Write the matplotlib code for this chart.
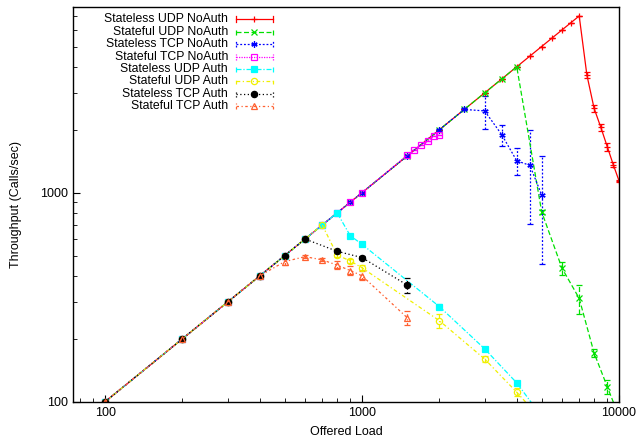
import matplotlib
matplotlib.use('Agg')
import matplotlib.pyplot as plt
from matplotlib.lines import Line2D

plt.rcParams['font.family'] = ['Liberation Sans', 'DejaVu Sans']
plt.rcParams['font.size'] = 9

DIAG = [100, 200, 300, 400, 500, 600, 700, 800, 900, 1000]

red_x = DIAG + [1500, 2000, 2500, 3000, 3500, 4000, 4500, 5000, 5500, 6000, 6500, 7000,
                7500, 8000, 8500, 9000, 9500, 10000]
red_y = DIAG + [1500, 2000, 2500, 3000, 3500, 4000, 4500, 5000, 5500, 6000, 6500, 7000,
                3650, 2530, 2050, 1660, 1360, 1140]
red_err = [0] * 22 + [120, 100, 70, 70, 40, 15]

green_x = DIAG + [1500, 2000, 2500, 3000, 3500, 4000, 5000, 6000, 7000, 8000, 9000, 10000]
green_y = DIAG + [1500, 2000, 2500, 3000, 3500, 4000, 810, 435, 312, 171, 118, 85]
green_err = [0] * 16 + [20, 32, 48, 8, 9, 5]

blue_x = DIAG + [1500, 2000, 2500, 3000, 3500, 4000, 4500, 5000]
blue_y = DIAG + [1500, 2000, 2500, 2460, 1890, 1420, 1350, 975]
blue_err = [0] * 13 + [450, 225, 212, 640, 520]

mag_x = DIAG + [1500, 1600, 1700, 1800, 1900, 2000]
mag_y = DIAG + [1510, 1600, 1690, 1760, 1860, 1890]
mag_err = [0] * 16

cyan_x = [100, 200, 300, 400, 500, 600, 700, 800, 900, 1000, 2000, 3000, 4000, 5000]
cyan_y = [100, 200, 300, 400, 500, 600, 700, 800, 622, 566, 285, 179, 123, 85]
cyan_err = [0] * 10 + [8, 4, 3, 2]

yel_x = [100, 200, 300, 400, 500, 600, 700, 800, 900, 1000, 2000, 3000, 4000, 5000]
yel_y = [100, 200, 300, 400, 500, 600, 700, 503, 471, 437, 244, 160, 111, 82]
yel_err = [0] * 7 + [10, 10, 12, 20, 6, 5, 2]

blk_x = [100, 200, 300, 400, 500, 600, 800, 1000, 1500]
blk_y = [100, 200, 300, 400, 500, 600, 524, 489, 361]
blk_err = [0] * 6 + [8, 8, 30]

org_x = [100, 200, 300, 400, 500, 600, 700, 800, 900, 1000, 1500]
org_y = [100, 200, 300, 400, 468, 494, 477, 450, 424, 400, 252]
org_err = [0] * 4 + [15, 8, 8, 20, 20, 20, 20]

LABELS = ['Stateless UDP NoAuth', 'Stateful UDP NoAuth', 'Stateless TCP NoAuth',
          'Stateful TCP NoAuth', 'Stateless UDP Auth', 'Stateful UDP Auth',
          'Stateless TCP Auth', 'Stateful TCP Auth']

asterisk = (6, 2, 0)
series = [
    (red_x, red_y, red_err, '#ff0000', '-', '+', '#ff0000'),
    (green_x, green_y, green_err, '#00e000', (0, (4, 2)), 'x', '#00e000'),
    (blue_x, blue_y, blue_err, '#0000ff', (0, (1.5, 1.5)), asterisk, '#0000ff'),
    (mag_x, mag_y, mag_err, '#ff00ff', (0, (1, 1)), 's', 'none'),
    (cyan_x, cyan_y, cyan_err, '#00ffff', (0, (4, 1.5, 1, 1.5)), 's', '#00ffff'),
    (yel_x, yel_y, yel_err, '#f0f000', (0, (3, 2, 1, 2)), 'o', 'none'),
    (blk_x, blk_y, blk_err, '#000000', (0, (1, 2)), 'o', '#000000'),
    (org_x, org_y, org_err, '#ff6030', (0, (2, 2, 1, 2)), '^', 'none'),
]

fig = plt.figure(figsize=(6.37, 4.42), dpi=100)
W, H = 637, 442
L, R, T, B = 73, 619, 7.3, 401.7
ax = fig.add_axes([L / W, 1 - B / H, (R - L) / W, (B - T) / H])

for (x, y, e, col, ls, mk, fc) in series:
    cont = ax.errorbar(x, y, yerr=e, color=col, ls=ls, lw=0.9, marker=mk, ms=4.5,
                       mfc=fc, mec=col, mew=0.9, ecolor=col, elinewidth=0.9,
                       capsize=2, capthick=0.9)
    # gnuplot draws the error bars in the same dash pattern as the line
    for bl in cont[2]:
        bl.set_linestyle(ls)

ax.set_xscale('log')
ax.set_yscale('log')
ax.set_xlim(75, 10000)
ax.set_ylim(100, 7700)
ax.set_xlabel('Offered Load', labelpad=5)
ax.set_ylabel('Throughput (Calls/sec)', labelpad=13)
ax.tick_params(which='both', direction='in', top=False, right=False)
ax.tick_params(which='major', length=5)
ax.tick_params(which='minor', length=3)
ax.xaxis.set_major_formatter(matplotlib.ticker.FuncFormatter(lambda v, p: '%d' % v))
ax.yaxis.set_major_formatter(matplotlib.ticker.FuncFormatter(lambda v, p: '%d' % v))
ax.xaxis.set_minor_formatter(matplotlib.ticker.NullFormatter())
ax.yaxis.set_minor_formatter(matplotlib.ticker.NullFormatter())
for s in ax.spines.values():
    s.set_linewidth(1.0)

# gnuplot-style key: text right-aligned, sample to the right
for i, (lab, (x, y, e, col, ls, mk, fc)) in enumerate(zip(LABELS, series)):
    yy = 1 - (19.3 + 12.4 * i) / H
    fig.text(228 / W, yy, lab, ha='right', va='center', fontsize=8.8)
    x0, x1 = 236 / W, 272.5 / W
    fig.add_artist(Line2D([x0, x1], [yy, yy], color=col, ls=ls, lw=0.9,
                          transform=fig.transFigure))
    fig.add_artist(Line2D([(x0 + x1) / 2], [yy], color=col, marker=mk, ms=4.5,
                          mfc=fc, mec=col, mew=0.9, ls='none', transform=fig.transFigure))
    for xc in (x0, x1):
        fig.add_artist(Line2D([xc, xc], [yy - 3 / H, yy + 3 / H], color=col, lw=0.9,
                              ls=ls, transform=fig.transFigure))

fig.savefig('out.png', dpi=100)
